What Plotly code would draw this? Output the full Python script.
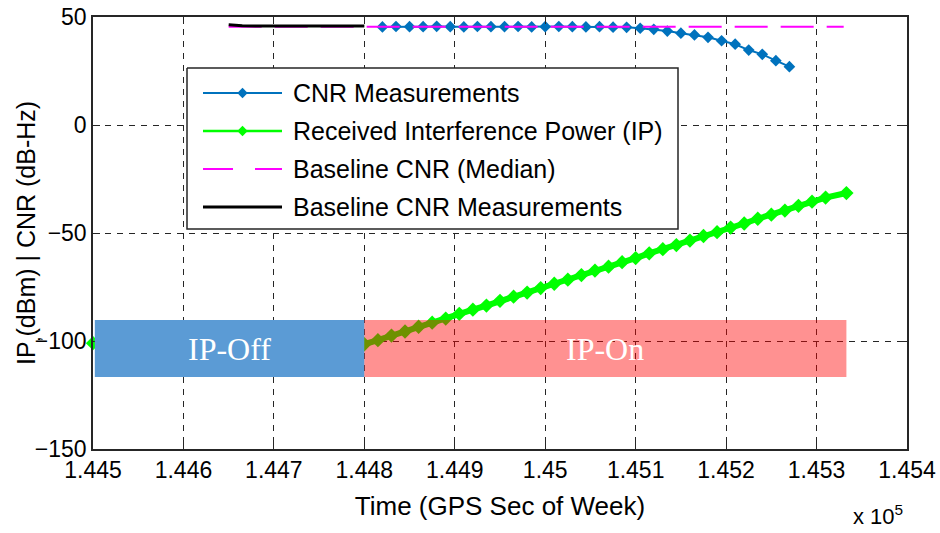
import plotly.graph_objects as go

# ---- data (time in GPS seconds of week) ----
cnr_time = [144820, 144835, 144850, 144865, 144880, 144895, 144910, 144925,
            144940, 144955, 144970, 144985, 145000, 145015, 145030, 145045,
            145060, 145075, 145090, 145105, 145120, 145135, 145150, 145165,
            145180, 145195, 145210, 145225, 145240, 145255, 145270]
cnr_value = [45.4, 45.6, 45.5, 45.5, 45.7, 45.5, 45.4, 45.6, 45.5, 45.5,
             45.6, 45.4, 45.5, 45.6, 45.5, 45.4, 45.5, 45.3, 45.2,
             44.8, 44.3, 43.5, 42.5, 41.7, 40.6, 39.0, 37.4, 34.7, 32.7,
             29.8, 27.0]

ip_time = [144500, 144560, 144620, 144680, 144740,
           144800, 144815, 144830, 144845, 144860, 144875, 144890, 144905,
           144920, 144935, 144950, 144965, 144980, 144995, 145010, 145025,
           145040, 145055, 145070, 145085, 145100, 145115, 145130, 145145,
           145160, 145175, 145190, 145205, 145220, 145235, 145250, 145265,
           145280, 145295, 145310, 145333]
ip_value = [-101.0, -101.2, -101.1, -101.3, -101.2,
            -101.5, -99.6, -97.5, -95.6, -93.4, -91.5, -89.6, -87.4,
            -85.5, -83.6, -81.4, -79.5, -77.6, -75.5, -73.5, -71.6,
            -69.5, -67.4, -65.6, -63.5, -61.6, -59.4, -57.5, -55.6,
            -53.5, -51.4, -49.6, -47.5, -45.6, -43.4, -41.5, -39.6,
            -37.4, -35.5, -33.6, -31.5]

median_time = [144650, 145330]
median_value = [45.5, 45.5]

base_time = [144650, 144665, 144680, 144695, 144710, 144725, 144740,
             144755, 144770, 144785, 144800]
base_value = [46.4, 45.9, 45.8, 45.8, 45.9, 45.8, 45.8, 45.8, 45.9, 45.8, 45.8]

x_ticks = [144500, 144600, 144700, 144800, 144900, 145000, 145100,
           145200, 145300, 145400]
x_tick_labels = ["1.445", "1.446", "1.447", "1.448", "1.449", "1.45",
                 "1.451", "1.452", "1.453", "1.454"]
y_ticks = [-150, -100, -50, 0, 50]

series_names = ["CNR Measurements", "Received Interference Power (IP)",
                "Baseline CNR (Median)", "Baseline CNR Measurements"]

# interference phases: (label, start, end)
phases = [("IP-Off", 144502, 144800), ("IP-On", 144800, 145333)]
phase_band = (-116.7, -90.3)

BLUE = "#0072BD"
GREEN = "#00FF00"
MAGENTA = "#FF00FF"
AXIS_COL = "#262626"
FONT = "Liberation Sans, Arial, sans-serif"

# plot area in pixels
L, R, T, B = 93, 907, 17, 449
W, H = 940, 533


def px_to_paper_x(px):
    return (px - L) / (R - L)


def px_to_paper_y(py):
    return (B - py) / (B - T)


fig = go.Figure()

fig.add_trace(go.Scatter(x=cnr_time, y=cnr_value, mode="lines+markers",
                         line=dict(color=BLUE, width=2),
                         marker=dict(symbol="diamond", size=9, color=BLUE),
                         showlegend=False))
fig.add_trace(go.Scatter(x=ip_time, y=ip_value, mode="lines+markers",
                         line=dict(color=GREEN, width=6),
                         marker=dict(symbol="diamond", size=11, color=GREEN),
                         cliponaxis=False, showlegend=False))
fig.add_trace(go.Scatter(x=median_time, y=median_value, mode="lines",
                         line=dict(color=MAGENTA, width=2, dash="33px,13px"),
                         showlegend=False))
fig.add_trace(go.Scatter(x=base_time, y=base_value, mode="lines",
                         line=dict(color="black", width=3),
                         showlegend=False))

# ---- legend drawn on a pixel-scaled overlay axis ----
box_x0, box_x1, box_y0, box_y1 = 187, 678, 68, 229
fig.add_trace(go.Scatter(x=[box_x0, box_x1, box_x1, box_x0, box_x0],
                         y=[box_y0, box_y0, box_y1, box_y1, box_y0],
                         mode="lines", fill="toself", fillcolor="white",
                         line=dict(color=AXIS_COL, width=1.5),
                         xaxis="x2", yaxis="y2", hoverinfo="skip",
                         showlegend=False))
rows = [93, 131, 169, 207]
ln0, ln1 = 203, 282
styles = [
    dict(line=dict(color=BLUE, width=2), marker=dict(symbol="diamond", size=8, color=BLUE), mk=True),
    dict(line=dict(color=GREEN, width=2.5), marker=dict(symbol="diamond", size=8, color=GREEN), mk=True),
    dict(line=dict(color=MAGENTA, width=2, dash="30px,22px"), marker=None, mk=False),
    dict(line=dict(color="black", width=3), marker=None, mk=False),
]
for name, yrow, st in zip(series_names, rows, styles):
    fig.add_trace(go.Scatter(x=[ln0, ln1], y=[yrow, yrow], mode="lines",
                             line=st["line"], xaxis="x2", yaxis="y2",
                             hoverinfo="skip", showlegend=False))
    if st["mk"]:
        fig.add_trace(go.Scatter(x=[(ln0 + ln1) / 2], y=[yrow], mode="markers",
                                 marker=st["marker"], xaxis="x2", yaxis="y2",
                                 hoverinfo="skip", showlegend=False))
    fig.add_annotation(x=291, y=yrow, xref="x2", yref="y2", text=name,
                       showarrow=False, xanchor="left", yanchor="middle",
                       font=dict(family=FONT, size=25, color="black"))

# ---- interference phase bands ----
fig.add_shape(type="rect", xref="x", yref="y", layer="above",
              x0=phases[0][1], x1=phases[0][2], y0=phase_band[0], y1=phase_band[1],
              fillcolor="#5B9BD5", line=dict(width=0))
fig.add_shape(type="rect", xref="x", yref="y", layer="above",
              x0=phases[1][1], x1=phases[1][2], y0=phase_band[0], y1=phase_band[1],
              fillcolor="rgba(255,0,0,0.43)", line=dict(width=0))
for label, x0, x1 in phases:
    fig.add_annotation(x=(x0 + x1) / 2, y=sum(phase_band) / 2,
                       xref="x", yref="y", text=label, showarrow=False,
                       font=dict(family="Liberation Serif, Times New Roman, serif",
                                 size=32, color="white"))

# y-axis title
fig.add_annotation(x=px_to_paper_x(28), y=0.5, xref="paper", yref="paper",
                   text="IP<sub>,</sub>(dBm) | CNR (dB-Hz)", textangle=-90,
                   showarrow=False, xanchor="center", yanchor="middle",
                   font=dict(family=FONT, size=25, color="black"))

# exponent label for the time axis
fig.add_annotation(x=px_to_paper_x(905), y=px_to_paper_y(531),
                   xref="paper", yref="paper",
                   text="x 10<sup>5</sup>", showarrow=False,
                   xanchor="right", yanchor="bottom",
                   font=dict(family=FONT, size=22, color="black"))

axis_common = dict(showline=True, linecolor=AXIS_COL, linewidth=1.5,
                   mirror="ticks", ticks="inside", ticklen=7,
                   tickcolor=AXIS_COL, tickwidth=1.2,
                   showgrid=True, gridcolor=AXIS_COL, gridwidth=1.3,
                   griddash="6px,6px", zeroline=False, automargin=False,
                   tickfont=dict(family=FONT, size=23, color="black"))

fig.update_layout(
    width=W, height=H,
    margin=dict(l=L, r=W - R, t=T, b=H - B),
    paper_bgcolor="white", plot_bgcolor="white",
    showlegend=False,
    xaxis=dict(range=[144500, 145400], tickvals=x_ticks, ticktext=x_tick_labels,
               title=dict(text="Time (GPS Sec of Week)", standoff=14,
                          font=dict(family=FONT, size=26, color="black")),
               **axis_common),
    yaxis=dict(range=[-150, 50], tickvals=y_ticks, **axis_common),
    xaxis2=dict(overlaying="x", range=[L, R], visible=False, fixedrange=True),
    yaxis2=dict(overlaying="y", range=[B, T], visible=False, fixedrange=True),
)

fig.write_html("out.html")
